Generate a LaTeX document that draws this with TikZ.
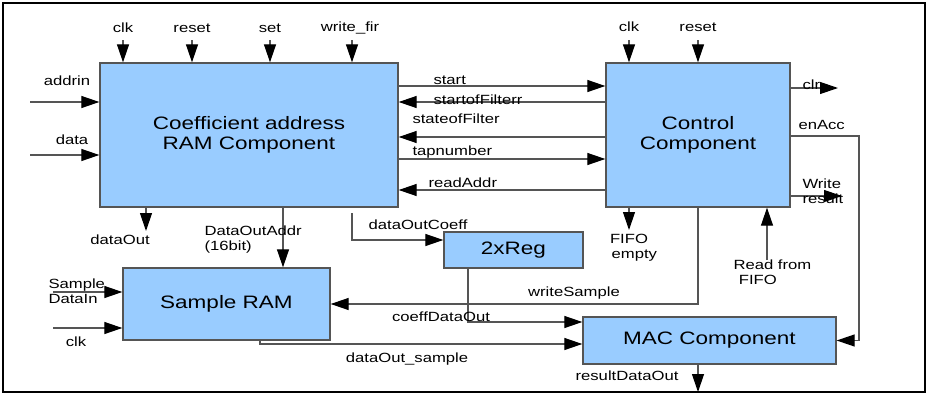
\documentclass[tikz,border=0pt]{standalone}
\usepackage{fontspec}
\setmainfont{Liberation Sans}[FakeStretch=1.25]
\usetikzlibrary{arrows.meta}

\definecolor{blockblue}{RGB}{153,204,255}
\definecolor{wiregray}{RGB}{85,85,85}

\tikzset{every picture/.style={line width=0.75pt}}
\tikzset{
  block/.style={draw=wiregray, line width=1pt, fill=blockblue, inner sep=0pt, align=center, font=\fontsize{13.5}{15}\selectfont},
  sig/.style={draw=wiregray, line width=0.9pt, -{Triangle[length=13.5pt,width=9pt,color=black]}},
  lbl/.style={inner sep=0.75pt, align=left, font=\fontsize{10}{11.25}\selectfont},
}

\begin{document}
\begin{tikzpicture}[x=0.75pt,y=0.75pt,yscale=-1,xscale=1]
\useasboundingbox (0,0) rectangle (929,396);
%Frame
\draw [line width=1.5pt] (3,3) rectangle (925,392);

%Blocks
\node [block, minimum width=223.5pt, minimum height=108pt] (coef) at (249,135) {Coefficient address\\RAM Component};
\node [block, minimum width=138pt, minimum height=108pt] (ctrl) at (698,135) {Control\\Component};
\node [block, minimum width=104.25pt, minimum height=27pt] (reg) at (513.5,250) {2xReg};
\node [block, minimum width=155.25pt, minimum height=54pt] (sram) at (226.5,304) {Sample RAM};
\node [block, minimum width=189.75pt, minimum height=35.25pt] (mac) at (709.5,340.5) {MAC Component};

%Free ends
\coordinate (inClkA) at (123,40);
\coordinate (inResetA) at (192,40);
\coordinate (inSet) at (270,40);
\coordinate (inWrite) at (352,40);
\coordinate (inClkB) at (629,40);
\coordinate (inResetB) at (698,40);
\coordinate (inAddr) at (30,102);
\coordinate (inData) at (30,155);
\coordinate (inSample) at (53,292);
\coordinate (inClkC) at (53,328);
\coordinate (outData) at (146,231);
\coordinate (outFifo) at (629,230);
\coordinate (inRead) at (767,260);
\coordinate (outClr) at (838,88);
\coordinate (outWrite) at (842,196);
\coordinate (outResult) at (698,392);

%Inputs
\draw [sig] (inClkA) -- (inClkA |- coef.north);
\draw [sig] (inResetA) -- (inResetA |- coef.north);
\draw [sig] (inSet) -- (inSet |- coef.north);
\draw [sig] (inWrite) -- (inWrite |- coef.north);
\draw [sig] (inClkB) -- (inClkB |- ctrl.north);
\draw [sig] (inResetB) -- (inResetB |- ctrl.north);
\draw [sig] (inAddr) -- (inAddr -| coef.west);
\draw [sig] (inData) -- (inData -| coef.west);
\draw [sig] (inSample) -- (inSample -| sram.west);
\draw [sig] (inClkC) -- (inClkC -| sram.west);

%Coefficient <-> Control
\draw [sig] (coef.east |- 0,86) -- (ctrl.west |- 0,86);
\draw [sig] (ctrl.west |- 0,102) -- (coef.east |- 0,102);
\draw [sig] (ctrl.west |- 0,137) -- (coef.east |- 0,137);
\draw [sig] (coef.east |- 0,159) -- (ctrl.west |- 0,159);
\draw [sig] (ctrl.west |- 0,190) -- (coef.east |- 0,190);

%Outputs of Coefficient
\draw [sig] (outData |- coef.south) -- (outData);
\draw [sig] (coef.south -| 283,0) -- (sram.north -| 283,0);
\draw [sig] (352,213) -- (352,240) -- (reg.west |- 0,240);
\draw [sig] (reg.south -| 468,0) -- (468,322) -- (mac.west |- 0,322);
\draw [sig] (sram.south -| 260,0) -- (260,344) -- (mac.west |- 0,344);

%Control outputs
\draw [sig] (ctrl.south -| 698,0) -- (698,304) -- (sram.east |- 0,304);
\draw [sig] (outFifo |- ctrl.south) -- (outFifo);
\draw [sig] (inRead) -- (inRead |- ctrl.south);
\draw [sig] (ctrl.east |- outClr) -- (outClr);
\draw [sig] (ctrl.east |- 0,136) -- (859,136) -- (859,340.5) -- (mac.east);
\draw [sig] (ctrl.east |- outWrite) -- (outWrite);
\draw [sig] (outResult |- mac.south) -- (outResult);

% Text Nodes
\node [lbl] (tClkA) at (123,28) {clk};
\node [lbl] (tResetA) at (192,28) {reset};
\node [lbl] (tSet) at (270,28) {set};
\node [lbl] (tWrite) at (350,28) {write\_fir};
\node [lbl] (tClkB) at (629,27) {clk};
\node [lbl] (tResetB) at (698,27) {reset};
\node [lbl] (tAddr) at (67,81) {addrin};
\node [lbl] (tData) at (72,140) {data};
\node [lbl, anchor=west] (tStart) at (432,80) {start};
\node [lbl, anchor=west] (tStartOf) at (432,100) {startofFilterr};
\node [lbl, anchor=west] (tState) at (411,119) {stateofFilter};
\node [lbl, anchor=west] (tTap) at (411,152) {tapnumber};
\node [lbl, anchor=west] (tRead) at (427,183) {readAddr};
\node [lbl, anchor=west] (tClr) at (801,85) {clr};
\node [lbl, anchor=west] (tEnAcc) at (797,125) {enAcc};
\node [lbl, anchor=west] (tWriteRes) at (801,191) {Write\\result};
\node [lbl] (tDataOut) at (120,240) {dataOut};
\node [lbl, anchor=west] (tAddrOut) at (203,240) {DataOutAddr\\(16bit)};
\node [lbl] (tCoeff) at (418,225) {dataOutCoeff};
\node [lbl, align=center] (tFifo) at (629,248) {FIFO\\ \hspace*{8pt}empty};
\node [lbl, anchor=west] (tReadFifo) at (732,272) {Read from\\ \hspace*{4pt}FIFO};
\node [lbl] (tWriteSample) at (574,293) {writeSample};
\node [lbl] (tCoeffOut) at (441,317) {coeffDataOut};
\node [lbl] (tSampleOut) at (407,359) {dataOut\_sample};
\node [lbl] (tResult) at (627,376) {resultDataOut};
\node [lbl, anchor=west] (tSampleIn) at (47,291) {Sample\\DataIn};
\node [lbl] (tClkC) at (76,342) {clk};

\end{tikzpicture}
\end{document}
